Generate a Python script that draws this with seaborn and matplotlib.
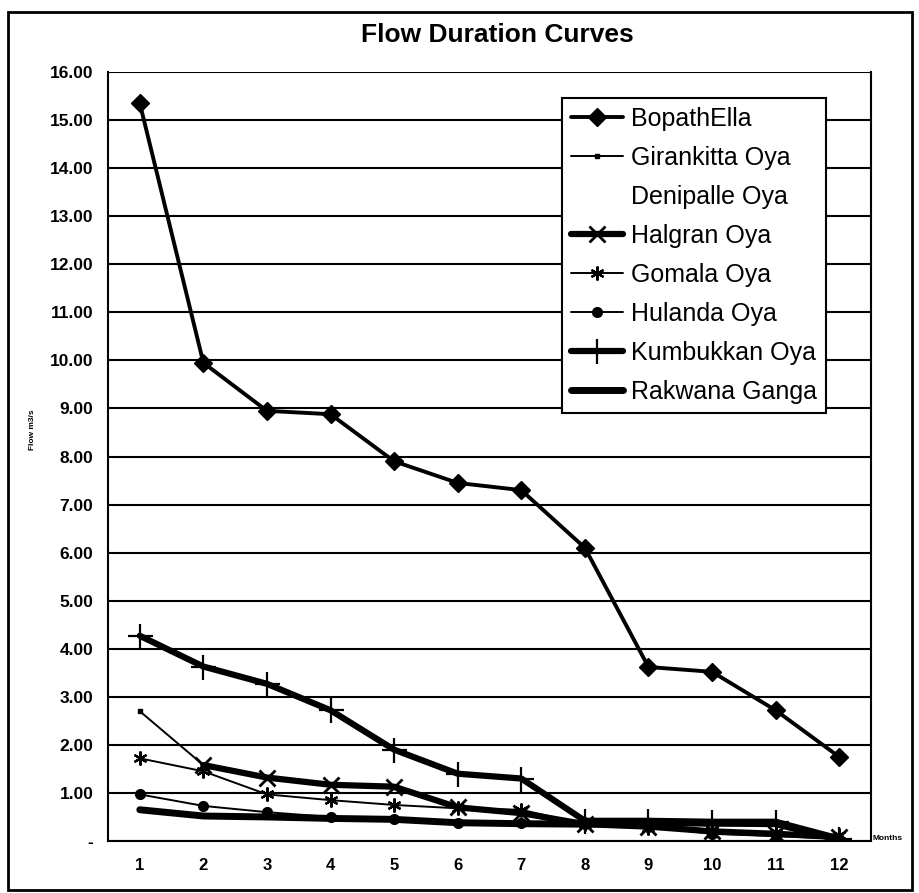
import matplotlib
matplotlib.use("Agg")
import matplotlib.pyplot as plt
import matplotlib.ticker as mticker
from matplotlib.patches import Rectangle
import seaborn as sns
import numpy as np

sns.set_style("white")
plt.rcParams['font.family'] = ['Liberation Sans', 'DejaVu Sans']
plt.rcParams['text.color'] = 'black'
plt.rcParams['xtick.color'] = 'black'
plt.rcParams['ytick.color'] = 'black'

# Months (categories) and flow series in m3/s
months = [1, 2, 3, 4, 5, 6, 7, 8, 9, 10, 11, 12]
bopath_ella = [15.35, 9.95, 8.95, 8.88, 7.9, 7.45, 7.3, 6.1, 3.62, 3.52, 2.72, 1.75]
girankitta_oya = [2.7, 1.58, 1.32, 1.17, 1.13, 0.7, 0.58, 0.35, 0.3, 0.2, 0.15, 0.08]
halgran_oya = [np.nan, 1.58, 1.32, 1.17, 1.13, 0.7, 0.58, 0.35, 0.3, 0.2, 0.15, 0.08]
gomala_oya = [1.72, 1.45, 0.97, 0.85, 0.75, 0.68, 0.65, 0.35, 0.28, 0.22, 0.18, 0.12]
hulanda_oya = [0.97, 0.73, 0.6, 0.5, 0.45, 0.38, 0.37, 0.35, 0.3, 0.15, 0.1, 0.05]
kumbukkan_oya = [4.27, 3.63, 3.27, 2.72, 1.9, 1.4, 1.3, 0.42, 0.42, 0.4, 0.4, 0.05]
rakwana_ganga = [0.65, 0.52, 0.5, 0.47, 0.45, 0.38, 0.36, 0.35, 0.38, 0.37, 0.36, 0.03]

fig = plt.figure(figsize=(9.19, 8.93), dpi=100)
W, H = 919, 893
ax = fig.add_axes([108 / W, 1 - 841 / H, (871 - 108) / W, (841 - 72) / H])

# outer chart border
fig.patches.append(Rectangle((8 / W, 1 - 890 / H), (912 - 8) / W, (890 - 12) / H,
                             transform=fig.transFigure, fill=False,
                             edgecolor='black', linewidth=2))

# series: (values, label, linewidth, marker, markersize, mew)
styles = [
    (bopath_ella, 'BopathElla', 2.8, 'D', 9, 1),
    (girankitta_oya, 'Girankitta Oya', 1.4, 's', 3, 1),
    (None, 'Denipalle Oya', 0, None, 0, 0),
    (halgran_oya, 'Halgran Oya', 4.5, 'x', 12, 2),
    (gomala_oya, 'Gomala Oya', 1.4, (6, 2, 0), 10, 1.6),
    (hulanda_oya, 'Hulanda Oya', 1.4, 'o', 7, 1),
    (kumbukkan_oya, 'Kumbukkan Oya', 4.5, '+', 18, 1.6),
    (rakwana_ganga, 'Rakwana Ganga', 5, None, 0, 0),
]

for vals, label, lw, mk, ms, mew in styles:
    if vals is None:
        # legend entry without a visible symbol
        ax.plot([], [], color='none', label=label)
        continue
    sns.lineplot(x=months, y=vals, ax=ax, color='black', linewidth=lw,
                 marker=mk, markersize=ms, markeredgewidth=mew,
                 markeredgecolor='black', markerfacecolor='black',
                 label=label, zorder=3)

ax.set_xlim(0.5, 12.5)
ax.set_ylim(0, 16)
ax.set_yticks(range(0, 17))
ax.yaxis.set_major_formatter(mticker.FuncFormatter(lambda v, p: '-' if v == 0 else f'{v:.2f}'))
ax.set_xticks(months)
ax.set_xticks(np.arange(0.5, 13, 1), minor=True)
ax.tick_params(axis='x', which='major', length=0, pad=12, labelsize=12)
ax.tick_params(axis='x', which='minor', length=8, direction='inout', width=1.2, color='black')
ax.tick_params(axis='y', which='major', length=9, direction='inout', width=1.2, color='black',
               labelsize=12.5, pad=6)
for lab in ax.get_xticklabels() + ax.get_yticklabels():
    lab.set_fontweight('bold')

ax.yaxis.grid(True, color='black', linewidth=1.5)
ax.set_axisbelow(True)
for side in ['left', 'right', 'bottom', 'top']:
    ax.spines[side].set_visible(True)
    ax.spines[side].set_color('black')
    ax.spines[side].set_linewidth(1.5)
ax.spines['top'].set_visible(False)

ax.set_xlabel('')
ax.set_ylabel('')
fig.text(497 / W, 1 - 35 / H, 'Flow Duration Curves', ha='center', va='center',
         fontsize=19, fontweight='bold')
fig.text(33 / W, 1 - 430 / H, 'Flow m3/s', rotation=90, ha='center', va='center',
         fontsize=6, fontweight='bold')
fig.text(888 / W, 1 - 838 / H, 'Months', ha='center', va='center',
         fontsize=6, fontweight='bold')

leg = ax.legend(loc='upper left', bbox_to_anchor=(562 / W, 1 - 98 / H),
                bbox_transform=fig.transFigure, frameon=True, fancybox=False,
                edgecolor='black', fontsize=18, handlelength=2.1, handletextpad=0.3,
                labelspacing=0.6, borderpad=0.35, borderaxespad=0)
leg.get_frame().set_linewidth(1.5)
leg.get_frame().set_alpha(1)

plt.savefig('out.png', dpi=100)
